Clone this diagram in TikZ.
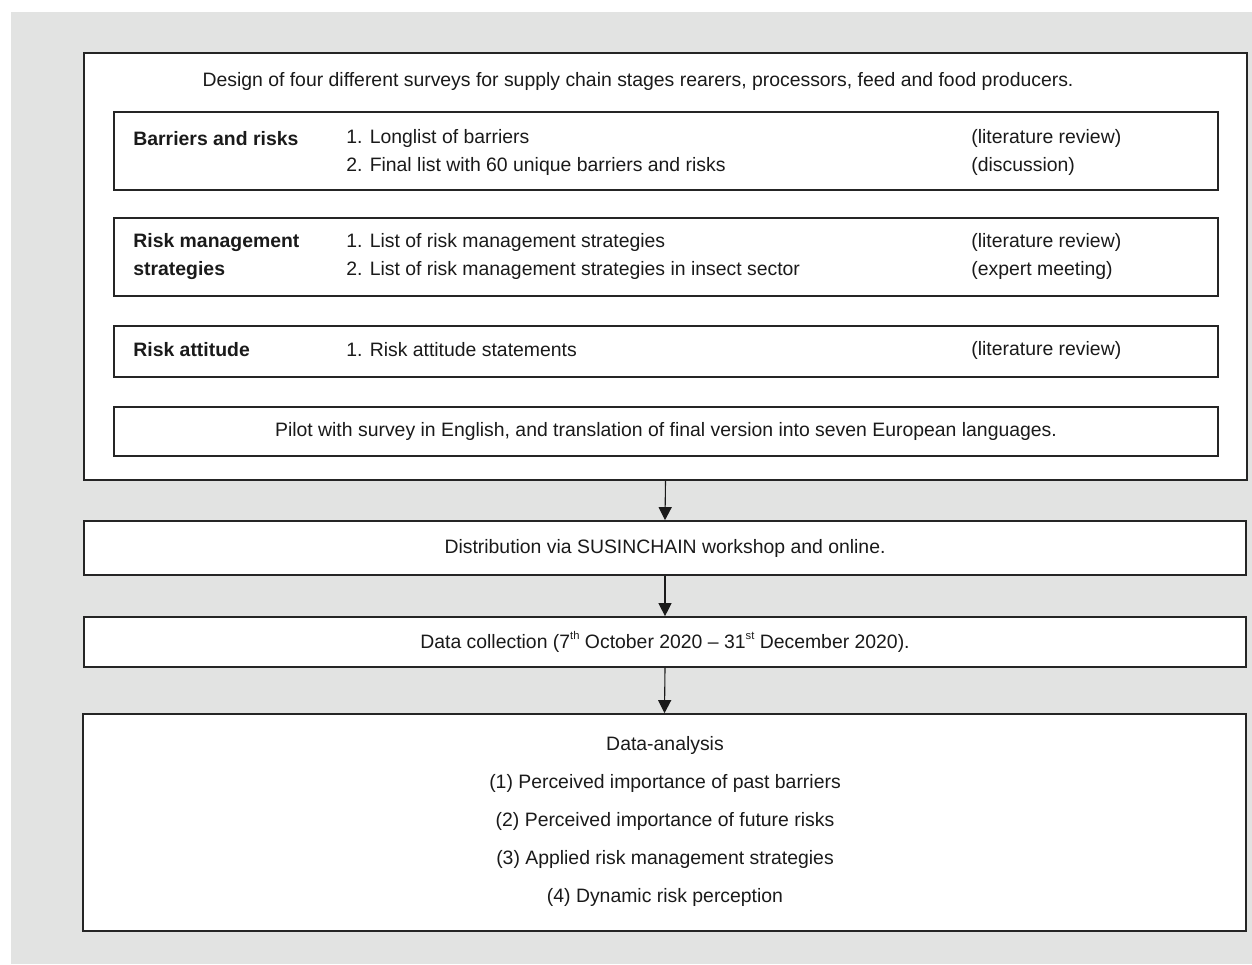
\documentclass[tikz,border=0pt]{standalone}
\usepackage{fontspec}
\setmainfont{Liberation Sans}
\usetikzlibrary{arrows.meta}
\definecolor{bggray}{HTML}{E2E3E2}
\definecolor{ink}{HTML}{1A1A1A}
\definecolor{edge}{HTML}{252525}
\newcommand{\supsm}[1]{\raisebox{0.85ex}{\fontsize{5.6pt}{6pt}\selectfont #1}}
\begin{document}
\begin{tikzpicture}[x=0.5pt,y=-0.5pt,
  box/.style={draw=edge, line width=0.85pt, fill=white, inner sep=0pt},
  txt/.style={inner sep=0pt, text=ink, font=\fontsize{9.7pt}{14pt}\selectfont},
  lbl/.style={txt, anchor=west, align=left, font=\fontsize{9.7pt}{14pt}\selectfont\bfseries},
  col/.style={txt, anchor=west, align=left},
  arr/.style={draw=ink, line width=0.55pt, -{Triangle[length=6.5pt,width=6.5pt]}}]
\useasboundingbox (0,0) rectangle (1252,964);
\fill[bggray] (11,12) rectangle (1252,964);
% boxes
\node[box, minimum width=581.5pt, minimum height=213.5pt] (outer) at (665.5,266.5) {};
\node[box, line width=0.75pt, minimum width=552pt, minimum height=39pt] (barr) at (666,151) {};
\node[box, line width=0.75pt, minimum width=552pt, minimum height=39pt] (rms) at (666,257) {};
\node[box, line width=0.75pt, minimum width=552pt, minimum height=25.5pt] (att) at (666,351.5) {};
\node[box, line width=0.75pt, minimum width=552pt, minimum height=24.5pt] (pilot) at (666,431.5) {};
\node[box, minimum width=581pt, minimum height=27pt] (dist) at (665,548) {};
\node[box, minimum width=581pt, minimum height=25pt] (coll) at (665,642) {};
\node[box, minimum width=581.5pt, minimum height=108.5pt] (anal) at (664.5,822.5) {};
% texts
\node[txt] (design) at (638,81) {Design of four different surveys for supply chain stages rearers, processors, feed and food producers.};
\node[lbl] (barrL) at (133,139) {Barriers and risks};
\node[col] (barrM) at (346,152.5) {1. Longlist of barriers\\2. Final list with 60 unique barriers and risks};
\node[col] (barrR) at (971,152.5) {(literature review)\\(discussion)};
\node[lbl] (rmsL) at (133,256.5) {Risk management\\strategies};
\node[col] (rmsM) at (346,256.5) {1. List of risk management strategies\\2. List of risk management strategies in insect sector};
\node[col] (rmsR) at (971,256.5) {(literature review)\\(expert meeting)};
\node[lbl] (attL) at (133,350) {Risk attitude};
\node[col] (attM) at (346,350) {1. Risk attitude statements};
\node[col] (attR) at (971,350) {(literature review)};
\node[txt] (pilotT) at (pilot.center) {Pilot with survey in English, and translation of final version into seven European languages.};
\node[txt] (distT) at (dist.center) {Distribution via SUSINCHAIN workshop and online.};
\node[txt] (collT) at (coll.center) {Data collection (7\supsm{th} October 2020 – 31\supsm{st} December 2020).};
\node[txt, align=center, font=\fontsize{9.7pt}{19pt}\selectfont] (analT) at (665,821) {Data-analysis\\(1) Perceived importance of past barriers\\(2) Perceived importance of future risks\\(3) Applied risk management strategies\\(4) Dynamic risk perception};
% connectors
\draw[arr] (outer.south) -- (dist.north);
\draw[arr] (dist.south) -- (coll.north);
\draw[arr] (coll.south) -- (anal.north);
\end{tikzpicture}
\end{document}
